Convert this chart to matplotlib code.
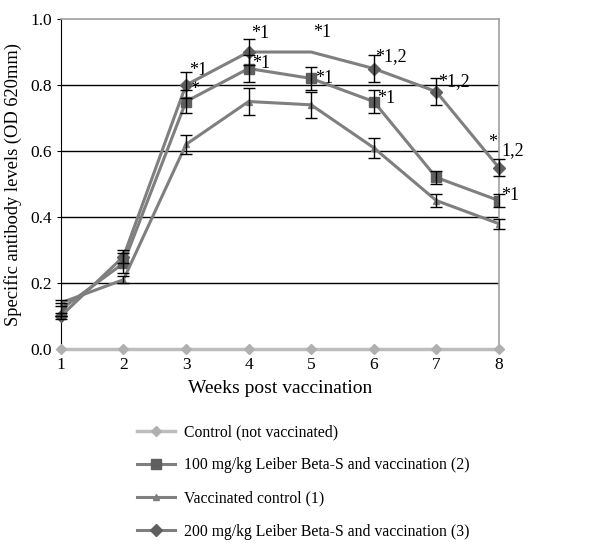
import numpy as np
import matplotlib
matplotlib.use("Agg")
from matplotlib import pyplot as plt

plt.rcParams['font.family'] = ['Liberation Serif', 'DejaVu Serif']

weeks = [1, 2, 3, 4, 5, 6, 7, 8]

control = [0, 0, 0, 0, 0, 0, 0, 0]
dose100 = [0.12, 0.26, 0.75, 0.85, 0.82, 0.75, 0.52, 0.45]
dose100_err = [0.02, 0.03, 0.035, 0.04, 0.035, 0.035, 0.02, 0.02]
vacc = [0.14, 0.21, 0.62, 0.75, 0.74, 0.61, 0.45, 0.38]
vacc_err = [0.01, 0.01, 0.03, 0.04, 0.04, 0.03, 0.02, 0.015]
dose200 = [0.10, 0.28, 0.80, 0.90, 0.90, 0.85, 0.78, 0.55]
dose200_err = [0.01, 0.02, 0.04, 0.04, np.nan, 0.04, 0.04, 0.025]

labels = ["Control (not vaccinated)",
          "100 mg/kg Leiber Beta-S and vaccination (2)",
          "Vaccinated control (1)",
          "200 mg/kg Leiber Beta-S and vaccination (3)"]

# significance notes: (week, y, text)
notes = [(3.05, 0.845, "*1"), (4.04, 0.955, "*1"), (5.04, 0.96, "*1"),
         (6.03, 0.885, "*1,2"), (7.03, 0.81, "*1,2"),
         (7.83, 0.625, "*"), (8.04, 0.60, "1,2"),
         (3.06, 0.785, "*"), (4.05, 0.865, "*1"), (5.06, 0.82, "*1"),
         (6.06, 0.76, "*1"), (8.03, 0.465, "*1")]

fig = plt.figure(figsize=(6.09, 5.45), dpi=100)
ax = fig.add_axes([0.100, 0.3596, 0.719, 0.6055])

for y in [0.2, 0.4, 0.6, 0.8]:
    ax.axhline(y, color='black', lw=1.0, zorder=1)

line_col = '#7f7f7f'
mark_col = '#5f5f5f'

l0, = ax.plot(weeks, control, color='#bdbdbd', lw=2.5, marker='D', ms=5,
              mfc='#b0b0b0', mec='#b0b0b0', zorder=3, clip_on=False)
l1, = ax.plot(weeks, dose100, color=line_col, lw=2.2, marker='s', ms=7,
              mfc=mark_col, mec=mark_col, zorder=4)
l2, = ax.plot(weeks, vacc, color=line_col, lw=2.2, marker='^', ms=5,
              mfc=line_col, mec=line_col, zorder=4)
l3, = ax.plot(weeks, dose200, color=line_col, lw=2.2, marker='D', ms=6,
              mfc=mark_col, mec=mark_col, zorder=4, clip_on=False,
              markevery=[0, 1, 2, 3, 5, 6, 7])

for vals, errs in [(dose100, dose100_err), (vacc, vacc_err), (dose200, dose200_err)]:
    ax.errorbar(weeks, vals, yerr=errs, fmt='none', ecolor='black',
                elinewidth=1.0, capsize=4, capthick=1.0, zorder=5, clip_on=False)

for x, y, t in notes:
    ax.text(x, y, t, fontsize=13, ha='left', va='center')

ax.set_xlim(1, 8)
ax.set_ylim(0, 1.0)
ax.set_xticks(weeks)
ax.set_yticks([0.0, 0.2, 0.4, 0.6, 0.8, 1.0])
ax.set_yticklabels(["0.0", "0.2", "0.4", "0.6", "0.8", "1.0"])
ax.tick_params(labelsize=12.5, length=3, direction='out')
ax.tick_params(axis='x', length=0, pad=6)
ax.set_xlabel("Weeks post vaccination", fontsize=14, labelpad=5)
ax.set_ylabel("Specific antibody levels (OD 620mm)", fontsize=13.3, labelpad=6)

ax.spines['left'].set_color('black')
for s in ['top', 'right']:
    ax.spines[s].set_color('#a0a0a0')
    ax.spines[s].set_linewidth(1.2)
ax.spines['bottom'].set_color('#a0a0a0')

fig.legend([l0, l1, l2, l3], labels, loc='upper left',
           bbox_to_anchor=(0.215, 0.2335), frameon=False, fontsize=11.3,
           labelspacing=1.1, handlelength=2.4, handletextpad=0.6,
           borderaxespad=0)

fig.savefig("out.png", dpi=100)
